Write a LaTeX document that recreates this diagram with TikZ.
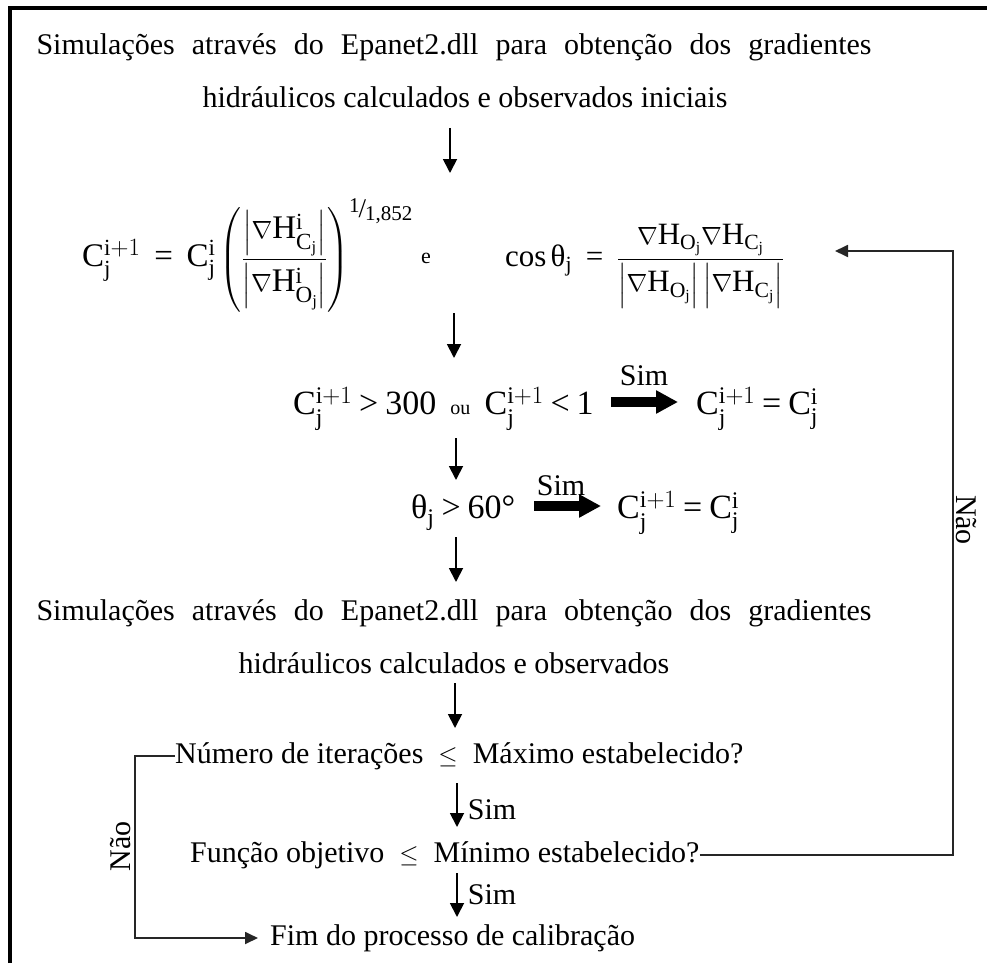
\documentclass[tikz,border=0pt]{standalone}
\usepackage{amsmath}
\usepackage{fontspec}
\setmainfont{Liberation Serif}
\usetikzlibrary{arrows.meta}
\newcommand{\rC}{\mathrm{C}}
\newcommand{\rH}{\mathrm{H}}
\newcommand{\rO}{\mathrm{O}}
\newcommand{\rj}{\mathrm{j}}
\newcommand{\ri}{\mathrm{i}}
\newcommand{\rth}{\text{θ}}
\newcommand{\Cij}{\rC_{\rj}^{\ri+1}}
\newcommand{\Cj}{\rC_{\rj}^{\ri}}
\newcommand{\teq}{\mathrel{\text{=}}}
\newcommand{\tgt}{\mathrel{\text{>}}}
\newcommand{\tlt}{\mathrel{\text{<}}}
\newcommand{\expo}{\text{\fontsize{21}{21}\selectfont\raisebox{5pt}{1}\kern-1pt{\fontsize{27}{27}\selectfont /}\kern-1pt\raisebox{-3pt}{1,852}}}
\begin{document}
\begin{tikzpicture}[x=1pt,y=-1pt,
  txt/.style={inner sep=0pt, font=\fontsize{30}{36}\selectfont},
  mth/.style={inner sep=0pt, font=\fontsize{34}{40}\selectfont},
  smalltxt/.style={inner sep=0pt, font=\fontsize{22}{26}\selectfont},
  arr/.style={line width=1.8pt, -{Triangle[length=14pt,width=14pt]}},
  loopl/.style={line width=1.8pt, draw=black!85},
  loopa/.style={loopl, -{Triangle[length=13pt,width=12pt]}},
  bigarr/.style={line width=10pt, -{Triangle[length=22pt,width=22pt]}}]
\useasboundingbox (0,0) rectangle (987,963);
% frame
\draw[line width=3.5pt] (10,963) -- (10,8) -- (987,8);

% texts
\node[txt] (t1) at (454,47) {\makebox[835pt][s]{Simulações através do Epanet2.dll para obtenção dos gradientes}};
\node[txt] (t2) at (465,97) {hidráulicos calculados e observados iniciais};

\node[inner sep=0pt, font=\fontsize{33}{40}\selectfont, anchor=base west] (f1) at (82,266) {$\displaystyle \Cij \;\teq\; \Cj\left(\frac{\left|\nabla\rH^{\ri}_{\rC_{\rj}}\right|}{\left|\nabla\rH^{\ri}_{\rO_{\rj}}\right|}\right)^{\expo}$};
\node[smalltxt] (e) at (426,258) {e};
\node[inner sep=0pt, font=\fontsize{31}{38}\selectfont, anchor=base west] (f2) at (505,266) {$\displaystyle \cos\rth_{\rj} \;\teq\; \frac{\nabla\rH_{\rO_{\rj}}\nabla\rH_{\rC_{\rj}}}{\left|\nabla\rH_{\rO_{\rj}}\right|\left|\nabla\rH_{\rC_{\rj}}\right|}$};

\node[mth, anchor=base west] (r3a) at (293,414) {$\Cij \tgt \text{300}$\, {\fontsize{20}{24}\selectfont ou}\, $\Cij \tlt \text{1}$};
\node[mth, anchor=base west] (r3b) at (696,414) {$\Cij \teq \Cj$};
\node[txt] (sim3) at (644,376) {Sim};

\node[mth, anchor=base west] (r4a) at (411,518) {$\rth_{\rj} \tgt \text{60°}$};
\node[mth, anchor=base west] (r4b) at (617,518) {$\Cij \teq \Cj$};
\node[txt] (sim4) at (561,486) {Sim};

\node[txt] (t3) at (454,613) {\makebox[835pt][s]{Simulações através do Epanet2.dll para obtenção dos gradientes}};
\node[txt] (t4) at (454,663) {hidráulicos calculados e observados};

\node[txt, anchor=west] (n1) at (175,756) {Número de iterações\ \ $\leq$\ \ Máximo estabelecido?};
\node[txt] (sim6) at (492,810) {Sim};
\node[txt, anchor=west] (n2) at (190,855) {Função objetivo\ \ $\leq$\ \ Mínimo estabelecido?};
\node[txt] (sim7) at (492,895) {Sim};
\node[txt, anchor=west] (n3) at (270,938) {Fim do processo de calibração};

\node[txt, rotate=90] (nao1) at (121,846) {Não};
\node[txt, rotate=-90] (nao2) at (966,520) {Não};

% connector end points
\coordinate (a1s) at (450,128); \coordinate (a1e) at (450,173);
\coordinate (a2s) at (454,313); \coordinate (a2e) at (454,358);
\coordinate (a3s) at (456,438); \coordinate (a3e) at (456,480);
\coordinate (a4s) at (456,537); \coordinate (a4e) at (456,582);
\coordinate (a5s) at (455,683); \coordinate (a5e) at (455,728);
\coordinate (a6s) at (457,783); \coordinate (a6e) at (457,827);
\coordinate (a7s) at (457,873); \coordinate (a7e) at (457,917);
\coordinate (b3s) at (611,402); \coordinate (b3e) at (678,402);
\coordinate (b4s) at (534,506); \coordinate (b4e) at (601,506);
\coordinate (rx) at (953,0);
\coordinate (tip) at (835,251);
\coordinate (lx) at (135,0);

\draw[arr] (a1s) -- (a1e);
\draw[arr] (a2s) -- (a2e);
\draw[arr] (a3s) -- (a3e);
\draw[arr] (a4s) -- (a4e);
\draw[arr] (a5s) -- (a5e);
\draw[arr] (a6s) -- (a6e);
\draw[arr] (a7s) -- (a7e);
\draw[bigarr] (b3s) -- (b3e);
\draw[bigarr] (b4s) -- (b4e);

\draw[loopa] (n2.east) -- (n2.east -| rx) -- (rx |- tip) -- (tip);
\draw[loopa, shorten >=12pt] (n1.west) -- (n1.west -| lx) -- (lx |- n3.west) -- (n3.west);
\end{tikzpicture}
\end{document}
